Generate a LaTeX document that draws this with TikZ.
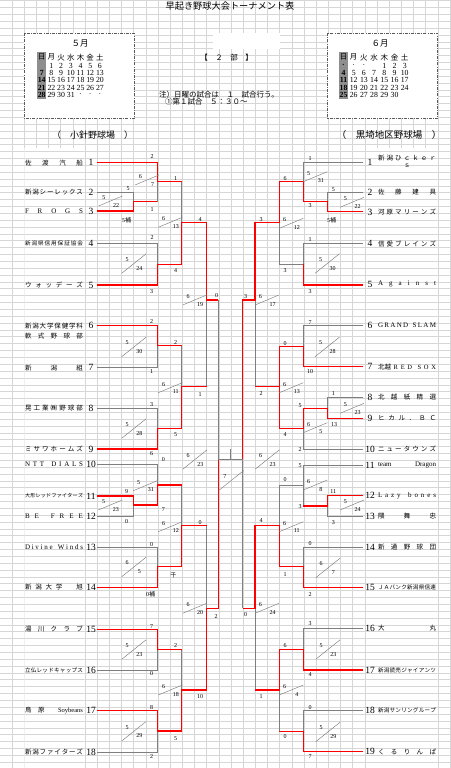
\documentclass[tikz,border=0pt]{standalone}
\usepackage{fontspec}
\setmainfont{Liberation Serif}
\newfontfamily\jp{Noto Sans CJK JP}
\usetikzlibrary{positioning}
\definecolor{gridGrey}{HTML}{D6D6D6}
\definecolor{lineGrey}{HTML}{7F7F7F}
\definecolor{winRed}{HTML}{FF0000}
\definecolor{sunGrey}{HTML}{8E8E8E}
\definecolor{boxGrey}{HTML}{5A5A5A}

% spread the letters of a name over the cell, like a spreadsheet
\newcommand\dist[2][58pt]{\makebox[#1][s]{\distA#2\relax}}
\def\distA#1{#1\distB}
\def\distB#1{\ifx\relax#1\else\hfil#1\expandafter\distB\fi}

\begin{document}
\begin{tikzpicture}[x=1pt,y=-1pt,
    every node/.style={inner sep=0.5pt},
    gridline/.style={draw=gridGrey,line width=0.3pt},
    gl/.style={draw=lineGrey,line width=0.7pt},
    rl/.style={draw=winRed,line width=1.3pt},
    dl/.style={draw=lineGrey,line width=0.45pt},
    sc/.style={font=\fontsize{6}{6}\selectfont},
    num/.style={font=\fontsize{9.5}{10}\selectfont},
    nm/.style={font=\jp\fontsize{6.5}{7}\selectfont},
    nmsm/.style={font=\jp\fontsize{5.6}{6}\selectfont},
    nmxs/.style={font=\jp\fontsize{5}{5}\selectfont},
    nmlat/.style={font=\rmfamily\fontsize{7}{7}\selectfont},
    calbox/.style={fill=white,draw=boxGrey,line width=0.6pt,dash pattern=on 3pt off 1.2pt on 0.8pt off 1.2pt},
    calh/.style={font=\jp\fontsize{7.5}{8}\selectfont},
    cald/.style={font=\fontsize{7.8}{8}\selectfont}]
  \useasboundingbox (0,0) rectangle (450,768);
  \fill[white] (0,0) rectangle (450,768);

  % sheet grid
  \foreach \k in {0,...,37}
    \draw[gridline] ({-0.36+12.17*\k},0) -- ++(0,768);
  \foreach \k in {0,...,112}
    \draw[gridline] (0,{0.5+6.86*\k}) -- ++(450,0);
  \begin{scope}
    \clip (24.3,148) rectangle (84.5,768) (377.2,148) rectangle (437.5,768);
    \fill[white] (0,0) rectangle (450,768);
    \foreach \k in {0,...,112}
      \draw[gridline] (0,{0.5+6.86*\k}) -- ++(450,0);
  \end{scope}
  \fill[white] (213.3,33.3) rectangle (280,49.3);

  % heading
  \node[font=\jp\fontsize{9.2}{10}\selectfont] (title) at (230,6.5) {早起き野球大会トーナメント表};
  \node[font=\jp\fontsize{7.5}{8}\selectfont] (division) at (226.5,57.3) {【　２　部　】};
  \node[font=\jp\fontsize{7.5}{8}\selectfont,anchor=west] (note1) at (158.5,95) {注）日曜の試合は　１　試合行う。};
  \node[font=\jp\fontsize{7.5}{8}\selectfont,anchor=west] (note2) at (164.5,101.9) {①第１試合　５：３０～};
  \node[font=\jp\fontsize{9}{10}\selectfont] (fieldL) at (92.5,135) {（　小針野球場　）};
  \node[font=\jp\fontsize{9.5}{10}\selectfont] (fieldR) at (389,135) {（　黒埼地区野球場　）};

  % calendars
  \draw[calbox] (24.3,33.3) rectangle (134.3,118.3);
  \draw[calbox] (327.7,33.3) rectangle (437.7,118.3);
  \fill[sunGrey] (37,52.5) rectangle (46.4,98.8);
  \fill[sunGrey] (338.8,52.5) rectangle (348.2,98.8);
  \node[calh,font=\jp\fontsize{8.5}{9}\selectfont] (may) at (80,43.3) {５月};
  \node[calh,font=\jp\fontsize{8.5}{9}\selectfont] (june) at (380,43.3) {６月};
  \foreach \w [count=\c from 0] in {日,月,火,水,木,金,土} {
    \node[calh] (mayh\c) at ({41.7+9.7*\c},57.3) {\w};
    \node[calh] (juneh\c) at ({343.5+10.2*\c},57.3) {\w};
  }
  \foreach \yy/\row [count=\r] in {65.7/{{},1,2,3,4,5,6}, 73/{7,8,9,10,11,12,13},
      80.3/{14,15,16,17,18,19,20}, 87.6/{21,22,23,24,25,26,27}, 94.9/{28,29,30,31,·,·,·}}
    \foreach \v [count=\c from 0] in \row
      \node[cald] (may\r-\c) at ({41.7+9.7*\c},\yy) {\ifnum\c=0 \bfseries\fi\v};
  \foreach \yy/\row [count=\r] in {65.7/{·,·,·,{},1,2,3}, 73/{4,5,6,7,8,9,10},
      80.3/{11,12,13,14,15,16,17}, 87.6/{18,19,20,21,22,23,24}, 94.9/{25,26,27,28,29,30,{}}}
    \foreach \v [count=\c from 0] in \row
      \node[cald] (june\r-\c) at ({343.5+10.2*\c},\yy) {\ifnum\c=0 \bfseries\fi\v};

  % teams, left field
  \coordinate (lnx) at (54,0);
  \foreach \i/\y in {1/162.7,2/192,3/211,4/243.3,5/285,6/325.7,7/367.7,8/408.3,9/449,
      10/464.3,11/496,12/516,13/547.3,14/587.3,15/629.3,16/670,17/710.7,18/752}
    \node[num] (Lno\i) at (91,\y) {\i};
  \foreach \i/\st/\t in {1/nm/{\dist{佐渡汽船}}, 2/nm/{\dist{新潟シーレックス}},
      3/nmlat/{\dist{FROGS}}, 4/nmsm/{\dist{新潟県信用保証協会}}, 5/nm/{\dist{ウォッデーズ}},
      6/nm/{\dist{新潟大学保健学科}}, 7/nm/{\dist{新潟組}}, 8/nm/{\dist{晃工業㈱野球部}},
      9/nm/{\dist{ミサワホームズ}}, 10/nmlat/{\dist{NTT\ DIALS}},
      11/nmxs/{\dist{大形レッドファイターズ}}, 12/nmlat/{\dist{BE\ FREE}},
      13/nmlat/{\dist{Divine\ Winds}}, 14/nm/{\dist{新潟大学\ \ 旭}},
      15/nm/{\dist{湯川クラブ}}, 16/nmsm/{\dist{立仏レッドキャップス}},
      17/nm/{\makebox[58pt][s]{鳥\hfil 原\hfil\hfil{\rmfamily Soybeans}}},
      18/nm/{\dist{新潟ファイターズ}}}
    \node[\st] (Lnm\i) at (Lno\i -| lnx) {\t};
  \node[nm,below=2.6pt of Lnm6] (Lnm6b) {\dist{軟式野球部}};

  % teams, right field
  \coordinate (rnx) at (407,0);
  \foreach \i/\y in {1/162.3,2/192.3,3/212,4/243.7,5/284.3,6/325.7,7/366.7,8/397.3,9/418.3,
      10/449.3,11/465,12/495.7,13/516,14/547,15/587.3,16/628,17/670,18/710.7,19/751.7}
    \node[num] (Rno\i) at (370,\y) {\i};
  \node[nm] (Rnm1) at (407,158.3) {\dist{新潟ひｃｋｅｒ}};
  \node[nm,below=1.5pt of Rnm1] (Rnm1b) {ｓ};
  \foreach \i/\st/\t in {2/nm/{\dist{佐藤建具}}, 3/nm/{\dist{河原マリーンズ}},
      4/nm/{\dist{信愛ブレインズ}}, 5/nmlat/{\dist{Against}}, 6/nmlat/{\dist{GRAND\ SLAM}},
      7/nm/{\makebox[58pt][s]{北越\hfil\rmfamily R\hfil E\hfil D\hfil\hfil S\hfil O\hfil X}},
      8/nm/{\dist{北越紙精選}}, 9/nm/{\dist{ヒカル．ＢＣ}}, 10/nm/{\dist{ニュータウンズ}},
      11/nmlat/{\makebox[58pt][s]{team\hfil Dragon}}, 12/nmlat/{\dist{Lazy\ bones}},
      13/nm/{\dist{隈舞忠}}, 14/nm/{\dist{新通野球団}}, 15/nmsm/{\dist{ＪＡバンク新潟県信連}},
      16/nm/{\dist{大丸}}, 17/nmsm/{\dist{新潟読売ジャイアンツ}},
      18/nmsm/{\dist{新潟サンリングループ}}, 19/nm/{\dist{くるりんぱ}}}
    \node[\st] (Rnm\i) at (Rno\i -| rnx) {\t};

  % bracket, left half
  \draw[gl] (97,192) -| (133.3,201.7);
  \draw[gl] (157.3,181.7) -- (157.3,201.7);
  \draw[gl] (181.7,181.7) -- (181.7,222.7);
  \draw[gl] (97,243.3) -| (157.3,264.3);
  \draw[gl] (206.7,300) -- (206.7,386.7);
  \draw[gl] (218.3,300) -- (218.3,459.3);
  \draw[gl] (97,367.7) -| (157.3,345.7);
  \draw[gl] (181.7,345.7) -- (181.7,386.7);
  \draw[gl] (97,408.3) -| (157.3,428.3);
  \draw[gl] (97,464.3) -| (157.3,485);
  \draw[gl] (97,516) -| (133.3,505);
  \draw[gl] (181.7,485) -- (181.7,525.7);
  \draw[gl] (97,547.3) -| (157.3,566.7);
  \draw[gl] (206.7,525.7) -- (206.7,608.3);
  \draw[gl] (97,670) -| (157.3,649.3);
  \draw[gl] (181.7,649.3) -- (181.7,690);
  \draw[gl] (97,752) -| (157.3,731);
  \draw[rl] (97,211) -| (133.3,201.7) -- (157.3,201.7);
  \draw[rl] (97,162.7) -| (157.3,181.7) -- (181.7,181.7);
  \draw[rl] (97,285) -| (157.3,264.3) -| (181.7,222.7) -| (206.7,300) -- (218.3,300);
  \draw[rl] (97,325.7) -| (157.3,345.7) -- (181.7,345.7);
  \draw[rl] (97,449) -| (157.3,428.3) -| (181.7,386.7) -- (206.7,386.7);
  \draw[rl] (97,496) -| (133.3,505) -| (157.3,485) -- (181.7,485);
  \draw[rl] (97,587.3) -| (157.3,566.7) -| (181.7,525.7) -- (206.7,525.7);
  \draw[rl] (97,629.3) -| (157.3,649.3) -- (181.7,649.3);
  \draw[rl] (97,710.7) -| (157.3,731) -| (181.7,690) -| (206.7,608.3) -| (218.3,459.3);

  % final
  \draw[gl] (218.3,459.3) -- (242.7,459.3);
  \draw[gl] (230.7,449.3) -- (230.7,459.3);

  % bracket, right half
  \draw[gl] (363.3,162.3) -| (303.3,181.7);
  \draw[gl] (363.3,192.3) -| (327.7,201.7);
  \draw[gl] (363.3,243.7) -| (303.3,264.3) -| (279.3,222.7);
  \draw[gl] (363.3,325.7) -| (303.3,346.7);
  \draw[gl] (363.3,397.3) -| (327.7,408.3);
  \draw[gl] (363.3,449.3) -| (303.3,428.3);
  \draw[gl] (255,300) -- (255,386.7);
  \draw[gl] (363.3,465) -| (303.3,485) -| (279.3,525.7);
  \draw[gl] (303.3,485) -- (303.3,506);
  \draw[gl] (363.3,516) -| (327.7,506);
  \draw[gl] (363.3,547) -| (303.3,566.7);
  \draw[gl] (242.7,459.3) -- (242.7,608.3);
  \draw[gl] (255,608.3) -- (255,690);
  \draw[gl] (363.3,628) -| (303.3,649.3);
  \draw[gl] (279.3,690) -- (279.3,731.7);
  \draw[gl] (363.3,710.7) -| (303.3,731.7);
  \draw[rl] (363.3,211.7) -| (327.7,201.7) -| (303.3,181.7) -| (279.3,222.7) -| (255,300) -| (242.7,459.3);
  \draw[rl] (363.3,285) -| (303.3,264.3);
  \draw[rl] (363.3,366.7) -| (303.3,346.7) -| (279.3,386.7) -- (255,386.7);
  \draw[rl] (363.3,418.3) -| (327.7,408.3) -| (303.3,428.3) -| (279.3,386.7);
  \draw[rl] (363.3,495.7) -| (327.7,506) -- (303.3,506);
  \draw[rl] (363.3,587.3) -| (303.3,566.7) -| (279.3,525.7) -| (255,608.3) -- (242.7,608.3);
  \draw[rl] (363.3,670) -| (303.3,649.3) -| (279.3,690) -- (255,690);
  \draw[rl] (363.3,751.7) -| (303.3,731.7) -- (279.3,731.7);

  % scores
  \foreach \x/\y/\t [count=\i] in {152/157/2, 128/189/5, 126.7/220/5{\jp 補}, 152/210/1,
      175.7/179/1, 200/220/4, 152/238/2, 175.7/271/4, 151.7/291.7/3, 216.7/296/0,
      151.7/321.7/2, 175.7/342.3/2, 151.7/371.7/1, 200/395/1, 151.7/404.3/3, 175.7/435/5,
      151.7/453.3/6, 163.3/460/0, 126.7/491.7/9, 163.3/510/7, 126.7/521.7/0, 200/522.3/0,
      151.7/544.3/0, 173.3/575/{\jp 千}, 150.7/594.3/0{\jp 補}, 216/616.7/2, 151.7/626.7/7,
      175.7/646/2, 151.7/673.3/0, 200/696.7/10, 151.7/707.3/8, 175.7/738.3/5, 151.7/756.7/2,
      310/158.3/1, 285/178.3/6, 333.3/189.3/5, 310/206/3, 331.7/220/5{\jp 補}, 261/219.3/3,
      310/239.3/1, 285/270.7/3, 310/291.7/3, 245.7/296.7/3, 310/322.3/7, 285/343.3/0,
      310/371.7/10, 261/393.3/2, 333.3/394/1, 300/406/5, 334/424.3/13, 285/435/4, 300/450/2,
      300/466/5, 285/480/0, 333.3/491.7/11, 300/506.7/3, 333.3/522.3/3, 261/521/4,
      310/543.3/0, 285/575/1, 310/594.3/2, 245.7/615/0, 310/623.3/3, 285/646/6,
      310/674.3/4, 261/696.7/1, 310/707.3/0, 285/736.7/0, 310/756.7/7}
    \node[sc] (sc\i) at (\x,\y) {\t};

  % match dates
  \foreach \x/\y/\m/\d [count=\i] in {98.5/206/5/22, 135/185/6/7, 158.3/227.3/6/13,
      182.7/305/6/19, 158.3/392.7/6/11, 133.3/490.7/5/31, 98.3/510/5/23, 158.3/531.7/6/12,
      182.7/613.3/6/20, 158.3/695/6/18, 303.3/181.7/5/31, 340/207.3/5/22, 279.3/228.3/6/12,
      255/305/6/17, 279.3/392.7/6/13, 340/413.3/5/23, 303.3/432.7/6/5, 303.3/490/6/8,
      340/510/5/24, 279.3/531.7/6/11, 255/613.3/6/24, 279.3/695/6/4} {
    \coordinate (fd\i) at (\x,\y);
    \draw[dl] (fd\i) -- ++(24,-10);
    \node[sc] (fm\i) at ({\x+5.4},{\y-8.5}) {\m};
    \node[sc] (fdd\i) at ({\x+17.5},{\y-0.8}) {\d};
  }
  \foreach \x/\y/\m/\d [count=\i] in {121.7/273.3/5/24, 121.7/356.7/5/30, 121.7/438.3/5/28,
      182.7/469.3/6/23, 121.7/576.7/6/5, 121.7/659.3/5/23, 121.7/741/5/29, 219.3/490/7/{},
      315/273.3/5/30, 315/356.7/5/28, 255/469.3/6/23, 315.7/577.7/6/7, 315.7/659.3/5/23,
      315.7/741.7/5/29} {
    \coordinate (sd\i) at (\x,\y);
    \draw[dl] (sd\i) -- ++(24.4,-19.5);
    \node[sc] (sm\i) at ({\x+5.5},{\y-13.8}) {\m};
    \node[sc] (sdd\i) at ({\x+17.6},{\y-5}) {\d};
  }
\end{tikzpicture}
\end{document}
